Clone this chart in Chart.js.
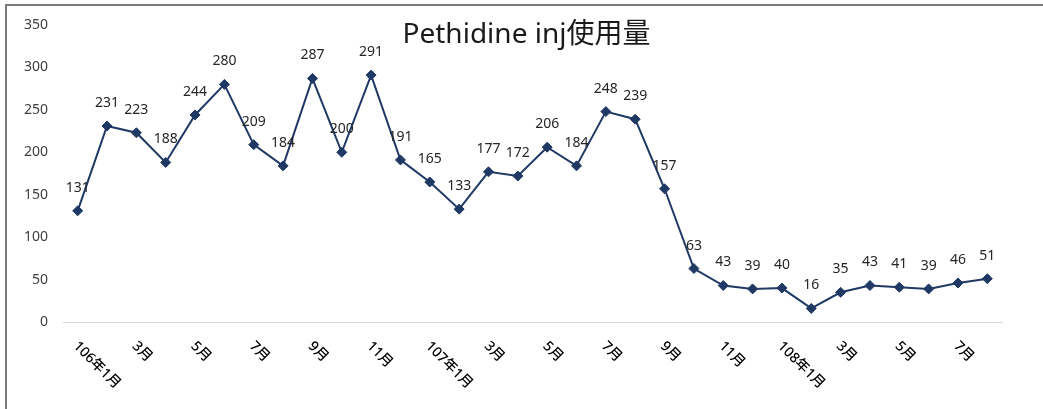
<!DOCTYPE html>
<html>
<head>
<meta charset="utf-8">
<script src="https://cdn.jsdelivr.net/npm/chart.js@4.4.0/dist/chart.umd.min.js"></script>
<style>
  html, body { margin: 0; padding: 0; background: #fff; }
</style>
</head>
<body>
<canvas id="grafico" width="1043" height="409"></canvas>
<script>
// Dados
const titulo = 'Pethidine inj使用量';
const meses = [
  '106年1月', '2月', '3月', '4月', '5月', '6月', '7月', '8月', '9月', '10月', '11月', '12月',
  '107年1月', '2月', '3月', '4月', '5月', '6月', '7月', '8月', '9月', '10月', '11月', '12月',
  '108年1月', '2月', '3月', '4月', '5月', '6月', '7月', '8月'
];
const usoMensal = [
  131, 231, 223, 188, 244, 280, 209, 184, 287, 200, 291, 191,
  165, 133, 177, 172, 206, 184, 248, 239, 157, 63, 43, 39,
  40, 16, 35, 43, 41, 39, 46, 51
];
const eixoY = { min: 0, max: 350, passo: 50 };

const FONTE = "'Noto Sans', 'Noto Sans CJK TC', sans-serif";
const AZUL = '#1f3864';

// Moldura, título, rótulos de dados e rótulos do eixo X
const pluginDesenho = {
  id: 'desenho',
  beforeDraw(chart) {
    const ctx = chart.ctx;
    ctx.save();
    ctx.fillStyle = '#fff';
    ctx.fillRect(0, 0, chart.width, chart.height);
    ctx.strokeStyle = '#7a7a7a';
    ctx.lineWidth = 2;
    ctx.beginPath();
    ctx.moveTo(6, chart.height);
    ctx.lineTo(6, 5);
    ctx.lineTo(chart.width, 5);
    ctx.stroke();
    ctx.restore();
  },
  afterDatasetsDraw(chart) {
    const ctx = chart.ctx;
    const area = chart.chartArea;
    const escalaX = chart.scales.x;
    ctx.save();

    // título
    ctx.font = `28px ${FONTE}`;
    ctx.fillStyle = '#1a1a1a';
    ctx.textAlign = 'center';
    ctx.textBaseline = 'middle';
    ctx.fillText(titulo, (area.left + area.right) / 2 - 6, 35);

    // rótulos de dados
    ctx.font = `14px ${FONTE}`;
    ctx.fillStyle = '#262626';
    const meta = chart.getDatasetMeta(0);
    meta.data.forEach((ponto, i) => {
      ctx.fillText(String(usoMensal[i]), ponto.x, ponto.y - 23);
    });

    // rótulos do eixo X (a cada dois meses, inclinados)
    ctx.font = `500 14px ${FONTE}`;
    ctx.fillStyle = '#000';
    ctx.textAlign = 'left';
    meses.forEach((mes, i) => {
      if (i % 2 !== 0) return;
      const x = escalaX.getPixelForValue(i);
      ctx.save();
      ctx.translate(x - 2, area.bottom + 22);
      ctx.rotate(Math.PI / 4);
      ctx.fillText(mes, 0, 0);
      ctx.restore();
    });
    ctx.restore();
  }
};

new Chart(document.getElementById('grafico').getContext('2d'), {
  type: 'line',
  data: {
    labels: meses,
    datasets: [{
      label: titulo,
      data: usoMensal,
      borderColor: AZUL,
      borderWidth: 2,
      pointStyle: 'rectRot',
      pointRadius: 5,
      pointBackgroundColor: AZUL,
      pointBorderColor: AZUL,
      pointBorderWidth: 1,
      tension: 0,
      fill: false
    }]
  },
  options: {
    responsive: false,
    animation: false,
    layout: { padding: { top: 25, right: 41, left: 0, bottom: 0 } },
    plugins: { legend: { display: false }, tooltip: { enabled: false }, title: { display: false } },
    scales: {
      x: {
        offset: true,
        grid: { display: false, drawTicks: false },
        border: { display: true, color: '#d9d9d9', width: 1 },
        ticks: { display: false },
        afterFit: escala => { escala.height = 87; }
      },
      y: {
        min: eixoY.min,
        max: eixoY.max,
        grid: { display: false, drawTicks: false },
        border: { display: false },
        ticks: { stepSize: eixoY.passo, padding: 15, color: '#404040', font: { size: 14, family: FONTE } },
        afterFit: escala => { escala.width = 63; }
      }
    }
  },
  plugins: [pluginDesenho]
});
</script>
</body>
</html>
